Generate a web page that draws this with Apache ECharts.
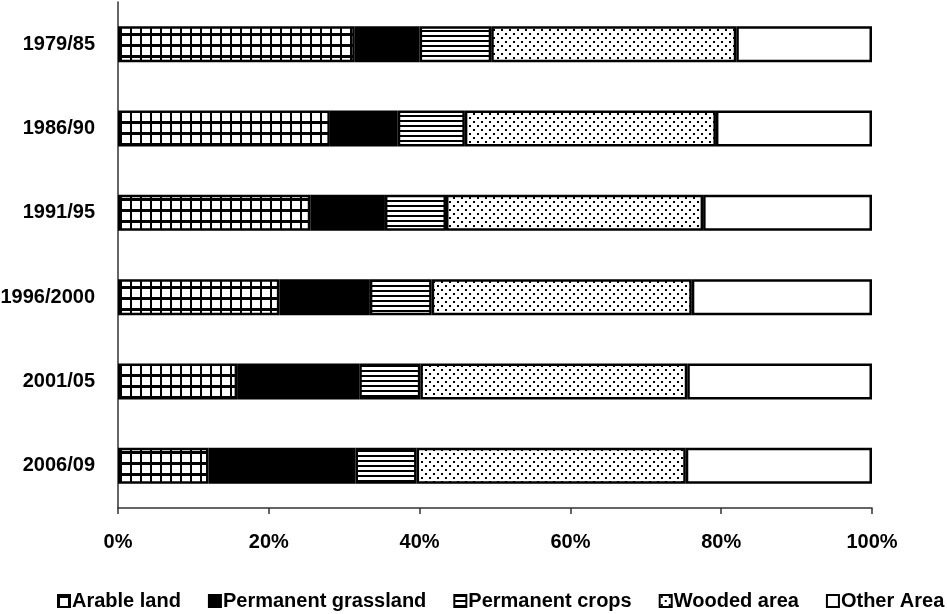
<!DOCTYPE html>
<html>
<head>
<meta charset="utf-8">
<script src="https://cdn.jsdelivr.net/npm/echarts@6/dist/echarts.min.js"></script>
<style>
html,body{margin:0;padding:0;background:#fff;}
#chart{width:947px;height:614px;}
</style>
</head>
<body>
<div id="chart"></div>
<script>
var categories = ['1979/85','1986/90','1991/95','1996/2000','2001/05','2006/09'];
var seriesNames = ['Arable land','Permanent grassland','Permanent crops','Wooded area','Other Area'];
var arableLand = [31.4, 28.1, 25.5, 21.4, 15.8, 12.0];
var permanentGrassland = [8.6, 9.0, 9.9, 12.0, 16.2, 19.5];
var permanentCrops = [9.5, 8.9, 8.1, 8.2, 8.1, 8.1];
var woodedArea = [32.5, 33.3, 34.1, 34.5, 35.4, 35.7];
var otherArea = [18.0, 20.7, 22.4, 23.9, 24.5, 24.7];
var xTickLabels = ['0%','20%','40%','60%','80%','100%'];

function makePattern(w, h, draw) {
  var c = document.createElement('canvas');
  c.width = w; c.height = h;
  var ctx = c.getContext('2d');
  draw(ctx, w, h);
  return {image: c, repeat: 'repeat'};
}
var gridPattern = makePattern(10, 11, function(ctx){
  ctx.fillStyle = '#000'; ctx.fillRect(0,0,10,11);
  ctx.fillStyle = '#fff'; ctx.fillRect(2,3,8,8);
});
var stripePattern = makePattern(5, 5, function(ctx){
  ctx.fillStyle = '#fff'; ctx.fillRect(0,0,5,5);
  ctx.fillStyle = '#000'; ctx.fillRect(0,0,5,2);
});
var dotPattern = makePattern(8, 8, function(ctx){
  ctx.fillStyle = '#fff'; ctx.fillRect(0,0,8,8);
  ctx.fillStyle = '#000';
  ctx.fillRect(1,1,2,2);
  ctx.fillRect(5,5,2,2);
});
var fills = [gridPattern, '#000', stripePattern, dotPattern, '#fff'];
var dataArrays = [arableLand, permanentGrassland, permanentCrops, woodedArea, otherArea];

var chart = echarts.init(document.getElementById('chart'), null, {renderer: 'canvas'});
var series = seriesNames.map(function(name, i){
  return {
    name: name,
    type: 'bar',
    stack: 'total',
    barWidth: 36,
    data: dataArrays[i],
    itemStyle: {color: fills[i], borderColor: '#000', borderWidth: 2.5},
    emphasis: {disabled: true}
  };
});
chart.setOption({
  animation: false,
  backgroundColor: '#fff',
  grid: {left: 118, right: 75, top: 2, bottom: 106, containLabel: false, outerBoundsMode: 'none'},
  legend: {
    data: seriesNames,
    icon: 'rect',
    left: 57,
    top: 591,
    width: 890,
    padding: 0,
    itemWidth: 12,
    itemHeight: 12,
    itemGap: 27,
    textStyle: {fontFamily: 'Liberation Sans, Arial, sans-serif', fontWeight: 'bold', fontSize: 20, color: '#000', padding: [0,0,0,-3]},
    itemStyle: {borderColor: '#000', borderWidth: 2}
  },
  xAxis: {
    type: 'value',
    min: 0, max: 100, interval: 20,
    axisLine: {show: true, lineStyle: {color: '#333', width: 1.5}},
    axisTick: {show: true, length: 6, lineStyle: {color: '#333', width: 1.5}},
    splitLine: {show: false},
    axisLabel: {
      margin: 24,
      fontFamily: 'Liberation Sans, Arial, sans-serif', fontWeight: 'bold', fontSize: 20, color: '#000',
      formatter: function(v){ return xTickLabels[Math.round(v/20)]; }
    }
  },
  yAxis: {
    type: 'category',
    inverse: true,
    data: categories,
    axisLine: {show: true, lineStyle: {color: '#333', width: 1.5}},
    axisTick: {show: false},
    axisLabel: {
      margin: 23,
      fontFamily: 'Liberation Sans, Arial, sans-serif', fontWeight: 'bold', fontSize: 20, color: '#000'
    }
  },
  series: series
});
</script>
</body>
</html>
